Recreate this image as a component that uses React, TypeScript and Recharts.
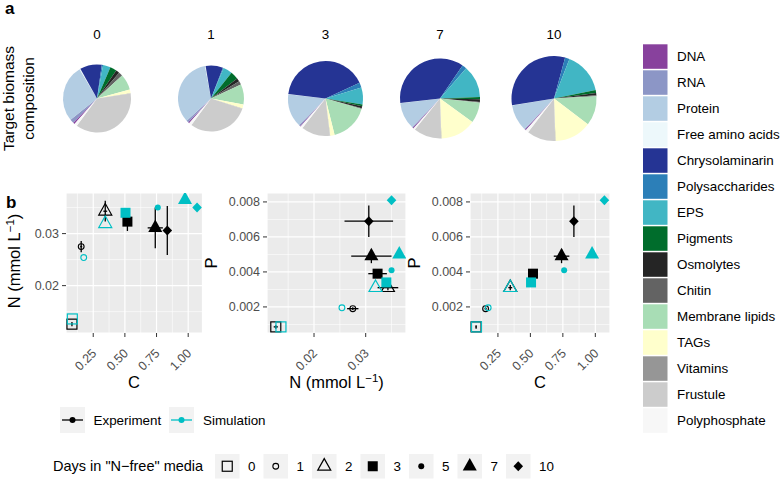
import React from 'react';
import {
  PieChart, Pie, Cell, ScatterChart, Scatter, XAxis, YAxis,
  CartesianGrid, ErrorBar, ReferenceLine,
} from 'recharts';

// ---- panel a: biomass composition (% of total) ----
const components = [
  'DNA', 'RNA', 'Protein', 'Free amino acids', 'Chrysolaminarin', 'Polysaccharides',
  'EPS', 'Pigments', 'Osmolytes', 'Chitin', 'Membrane lipids', 'TAGs', 'Vitamins',
  'Frustule', 'Polyphosphate',
];
const componentColors = [
  '#88419D', '#8C96C6', '#B3CDE3', '#EDF8FB', '#253494', '#2C7FB8', '#41B6C4',
  '#006D2C', '#252525', '#636363', '#A8DDB5', '#FFFFCC', '#969696', '#CCCCCC', '#F7F7F7',
];
const pieDays = ['0', '1', '3', '7', '10'];
const shareDay0 = [0.8, 1.9, 27.2, 0.4, 10.4, 0.6, 3.6, 3.1, 1.7, 1.9, 7.5, 1.9, 0.1, 37.4, 1.4];
const shareDay1 = [0.6, 1.1, 33.9, 0.3, 8.5, 0.4, 4.4, 3.9, 1.7, 1.8, 9.9, 2.0, 0.1, 30.1, 1.4];
const shareDay3 = [0.4, 0.6, 14.3, 0.1, 41.1, 2.1, 7.3, 0.8, 0.8, 0.3, 16.6, 1.9, 0.1, 12.4, 1.0];
const shareDay7 = [0.4, 0.4, 10.8, 0.1, 36.3, 1.8, 13.1, 0.9, 1.1, 0.3, 8.3, 14.4, 0.1, 11.3, 0.7];
const shareDay10 = [0.4, 0.4, 10.0, 0.1, 31.8, 1.7, 15.9, 1.1, 0.9, 0.3, 11.2, 14.1, 0.1, 10.9, 1.1];
const shares = [shareDay0, shareDay1, shareDay3, shareDay7, shareDay10];

// ---- panel b: C, N, P (mmol/L) ----
const days = [0, 1, 2, 3, 5, 7, 10];
const expC = [0.082, 0.155, 0.345, 0.52, null, 0.74, 0.835];
const expN = [0.0126, 0.0275, 0.0343, 0.0323, null, 0.0311, 0.0306];
const expP = [0.00086, 0.0019, 0.0031, 0.0039, null, 0.0049, 0.0069];
const expCErr = [0.005, 0.008, 0.015, 0.01, null, 0.06, 0.01];
const expNErr = [0.0004, 0.0011, 0.002, 0.0018, null, 0.0039, 0.0047];
const expPErr = [0.0001, 0.00008, 0.00015, 0.00025, null, 0.0004, 0.0009];
const simC = [0.085, 0.175, 0.345, 0.505, 0.76, 0.975, 1.07];
const simN = [0.0136, 0.0254, 0.0319, 0.034, 0.035, 0.0365, 0.035];
const simP = [0.00086, 0.00195, 0.0031, 0.0034, 0.0041, 0.005, 0.0081];

const cTicks = [0.25, 0.5, 0.75, 1.0];
const nTicks = [0.02, 0.03];
const pTicks = [0.002, 0.004, 0.006, 0.008];

const FONT = '"Liberation Sans", Arial, Helvetica, sans-serif';
const EXP = '#000000';
const SIM = '#00BFC4';

const expCols: Record<string, (number | null)[]> = { C: expC, N: expN, P: expP };
const expErrs: Record<string, (number | null)[]> = { C: expCErr, N: expNErr, P: expPErr };
const simCols: Record<string, number[]> = { C: simC, N: simN, P: simP };
const domains: Record<string, [number, number]> = {
  C: [0.035, 1.113], N: [0.0109, 0.0378], P: [0.00051, 0.00851],
};
const majors: Record<string, number[]> = { C: cTicks, N: nTicks, P: pTicks };
const minors: Record<string, number[]> = {
  C: [0.125, 0.375, 0.625, 0.875], N: [0.015, 0.025, 0.035], P: [0.001, 0.003, 0.005, 0.007],
};
const digits: Record<string, number> = { C: 2, N: 2, P: 3 };

const PLOT_TOP = 193;
const PLOT_H = 140;

const tri = (cx: number, cy: number, w: number, h: number) =>
  `${cx},${cy - (2 * h) / 3} ${cx + w / 2},${cy + h / 3} ${cx - w / 2},${cy + h / 3}`;

function DayMark({ cx, cy, day, color }: { cx: number; cy: number; day: number; color: string }) {
  switch (day) {
    case 0:
      return <rect x={cx - 5} y={cy - 5} width={10} height={10} fill="none" stroke={color} strokeWidth={1.2} />;
    case 1:
      return <circle cx={cx} cy={cy} r={2.9} fill="none" stroke={color} strokeWidth={1.1} />;
    case 2:
      return <polygon points={tri(cx, cy, 13, 11.5)} fill="none" stroke={color} strokeWidth={1.2} />;
    case 3:
      return <rect x={cx - 5} y={cy - 5} width={10} height={10} fill={color} />;
    case 5:
      return <circle cx={cx} cy={cy} r={3} fill={color} />;
    case 7:
      return <polygon points={tri(cx, cy, 14, 12.5)} fill={color} />;
    default:
      return <polygon points={`${cx},${cy - 5} ${cx + 4.8},${cy} ${cx},${cy + 5} ${cx - 4.8},${cy}`} fill={color} />;
  }
}

function RotTick(props: any) {
  const { x, y, payload, nd } = props;
  const ax = x + 4;
  const ay = y + 15;
  return (
    <text x={ax} y={ay} transform={`rotate(-45 ${ax} ${ay})`} textAnchor="end"
      fill="#4D4D4D" fontSize={12.5} fontFamily={FONT}>
      {Number(payload.value).toFixed(nd)}
    </text>
  );
}

function Panel({ left, width, xv, yv }: { left: number; width: number; xv: string; yv: string }) {
  const PADL = 50, PADT = 8, PADR = 12, XH = 45;
  const expData = days
    .map((d, i) => ({ day: d, x: expCols[xv][i], y: expCols[yv][i], ex: expErrs[xv][i], ey: expErrs[yv][i] }))
    .filter((r) => r.x != null && r.y != null);
  const simData = days.map((d, i) => ({ day: d, x: simCols[xv][i], y: simCols[yv][i] }));
  return (
    <div style={{ position: 'absolute', left: left - PADL, top: PLOT_TOP - PADT }}>
      <ScatterChart width={width + PADL + PADR} height={PLOT_H + PADT + XH}
        margin={{ top: PADT, right: PADR, bottom: 0, left: 0 }}>
        <CartesianGrid fill="#EBEBEB" fillOpacity={1} stroke="#FFFFFF" strokeWidth={1.2} />
        {minors[xv].map((v) => (
          <ReferenceLine key={'mx' + v} x={v} stroke="#FFFFFF" strokeWidth={0.6} />
        ))}
        {minors[yv].map((v) => (
          <ReferenceLine key={'my' + v} y={v} stroke="#FFFFFF" strokeWidth={0.6} />
        ))}
        <XAxis type="number" dataKey="x" domain={domains[xv]} ticks={majors[xv]} allowDataOverflow
          interval={0} axisLine={false} tickSize={4} tickLine={{ stroke: '#333333' }} height={XH}
          tick={(p: any) => <RotTick {...p} nd={digits[xv]} />} />
        <YAxis type="number" dataKey="y" domain={domains[yv]} ticks={majors[yv]} allowDataOverflow
          interval={0} axisLine={false} width={PADL} tickSize={4} tickMargin={3}
          tickLine={{ stroke: '#333333' }}
          tick={{ fill: '#4D4D4D', fontSize: 12.5, fontFamily: FONT }}
          tickFormatter={(v: number) => v.toFixed(digits[yv])} />
        <Scatter data={expData} isAnimationActive={false}
          shape={(p: any) => <DayMark cx={p.cx} cy={p.cy} day={p.payload.day} color={EXP} />}>
          <ErrorBar dataKey="ey" direction="y" width={0} stroke={EXP} strokeWidth={1.3} />
          <ErrorBar dataKey="ex" direction="x" width={0} stroke={EXP} strokeWidth={1.3} />
        </Scatter>
        <Scatter data={simData} isAnimationActive={false}
          shape={(p: any) => <DayMark cx={p.cx} cy={p.cy} day={p.payload.day} color={SIM} />} />
      </ScatterChart>
    </div>
  );
}

const pieCx = [97, 211, 325.5, 440, 554];
const pieR = [34, 33, 37.5, 40, 42.5];
const PIE_CY = 98.5;
const START = 90 - 221.5;

const dayKeyX = (i: number) => 215 + i * 48.5;
const LEG1_Y = 420;
const LEG2_Y = 466;

export default function App() {
  return (
    <div style={{ position: 'absolute', left: 0, top: 0, width: 782, height: 480, background: '#fff', overflow: 'hidden', fontFamily: FONT }}>
      <div style={{ position: 'absolute', left: 0, top: 0 }}>
        <PieChart width={620} height={150} margin={{ top: 0, right: 0, bottom: 0, left: 0 }}>
          {shares.map((s, k) => (
            <Pie key={k} data={s.map((v, i) => ({ name: components[i], value: v }))} dataKey="value"
              nameKey="name" cx={pieCx[k]} cy={PIE_CY} innerRadius={0} outerRadius={pieR[k]}
              startAngle={START} endAngle={START - 360} stroke="none" isAnimationActive={false}>
              {s.map((_, i) => <Cell key={i} fill={componentColors[i]} stroke="none" />)}
            </Pie>
          ))}
        </PieChart>
      </div>

      <Panel left={66} width={136.5} xv="C" yv="N" />
      <Panel left={267} width={139} xv="N" yv="P" />
      <Panel left={470} width={140} xv="C" yv="P" />

      <svg width={782} height={480} style={{ position: 'absolute', left: 0, top: 0, pointerEvents: 'none' }}
        fontFamily={FONT}>
        <text x={5} y={13.5} fontSize={17} fontWeight="bold">a</text>
        <text x={6} y={208} fontSize={17} fontWeight="bold">b</text>

        {pieDays.map((d, k) => (
          <text key={d} x={pieCx[k]} y={39} textAnchor="middle" fontSize={13.4}>{d}</text>
        ))}
        <text transform="translate(14 98.5) rotate(-90)" textAnchor="middle" fontSize={15.5}>Target biomass</text>
        <text transform="translate(34 98.5) rotate(-90)" textAnchor="middle" fontSize={15.5}>composition</text>

        {components.map((c, i) => (
          <g key={c}>
            <rect x={643} y={44.3 + i * 26} width={24.5} height={24.5} fill={componentColors[i]} />
            <text x={677} y={56.5 + i * 26} dy="0.35em" fontSize={13.4}>{c}</text>
          </g>
        ))}

        {/* axis titles */}
        <text transform="translate(20 261) rotate(-90)" textAnchor="middle" fontSize={16.5}>
          N (mmol L<tspan dy={-6} fontSize={11.5}>−1</tspan><tspan dy={6}>)</tspan>
        </text>
        <text transform="translate(216.5 263) rotate(-90)" textAnchor="middle" fontSize={16.5}>P</text>
        <text transform="translate(420 263) rotate(-90)" textAnchor="middle" fontSize={16.5}>P</text>
        <text x={134} y={388} textAnchor="middle" fontSize={16.5}>C</text>
        <text x={336.5} y={388} textAnchor="middle" fontSize={16.5}>
          N (mmol L<tspan dy={-6} fontSize={11.5}>−1</tspan><tspan dy={6}>)</tspan>
        </text>
        <text x={540} y={388} textAnchor="middle" fontSize={16.5}>C</text>

        {/* series legend */}
        <rect x={60} y={LEG1_Y - 13} width={25} height={26} fill="#F2F2F2" />
        <line x1={62} x2={83} y1={LEG1_Y} y2={LEG1_Y} stroke={EXP} strokeWidth={1.3} />
        <circle cx={72.5} cy={LEG1_Y} r={3} fill={EXP} />
        <text x={93.5} y={LEG1_Y} dy="0.35em" fontSize={13.4}>Experiment</text>
        <rect x={169} y={LEG1_Y - 13} width={25} height={26} fill="#F2F2F2" />
        <line x1={171} x2={192} y1={LEG1_Y} y2={LEG1_Y} stroke={SIM} strokeWidth={1.3} />
        <circle cx={181.5} cy={LEG1_Y} r={3} fill={SIM} />
        <text x={203} y={LEG1_Y} dy="0.35em" fontSize={13.4}>Simulation</text>

        {/* days legend */}
        <text x={53} y={LEG2_Y} dy="0.35em" fontSize={14.5}>Days in "N−free" media</text>
        {days.map((d, i) => (
          <g key={d}>
            <rect x={dayKeyX(i)} y={LEG2_Y - 12} width={24.5} height={24.5} fill="#F2F2F2" />
            <DayMark cx={dayKeyX(i) + 12.25} cy={LEG2_Y + 0.25} day={d} color={EXP} />
            <text x={dayKeyX(i) + 33} y={LEG2_Y} dy="0.35em" fontSize={13.4}>{d}</text>
          </g>
        ))}
      </svg>
    </div>
  );
}
